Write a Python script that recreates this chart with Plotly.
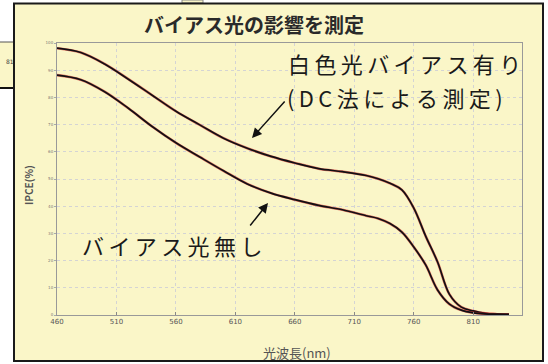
import plotly.graph_objects as go

# Wavelength grid (nm) and IPCE (%) for the two measurement conditions
wavelength = [460, 480, 500, 520, 540, 560, 580, 600, 620, 640, 660, 680, 700,
              720, 730, 740, 750, 760, 770, 780, 790, 800, 810, 820, 830, 840]
ipce_with_bias = [98.1, 96.5, 92.3, 86.7, 80.8, 74.9, 69.9, 65.0, 61.3, 58.3, 55.9,
                  53.8, 52.7, 51.3, 50.1, 48.4, 46.0, 39.3, 29.0, 19.5, 7.6, 2.9,
                  1.5, 0.6, 0.3, 0.2]
ipce_no_bias = [88.2, 86.5, 82.1, 76.0, 69.3, 63.3, 58.1, 53.0, 48.2, 44.8, 42.4,
                40.3, 38.7, 36.5, 35.5, 33.6, 30.5, 25.0, 18.4, 9.2, 4.0, 1.8,
                0.8, 0.4, 0.3, 0.2]

x_ticks = [460, 510, 560, 610, 660, 710, 760, 810]
y_ticks = [0, 10, 20, 30, 40, 50, 60, 70, 80, 90, 100]

title_text = "バイアス光の影響を測定"
x_title = "光波長(nm)"
y_title = "IPCE(%)"
label_bias = "白色光バイアス有り"
label_bias_sub = "(DC法による測定)"
label_nobias = "バイアス光無し"

W, H = 548, 364
L, R, T, B = 57, 522, 43, 315
JP = "Noto Sans CJK JP, Noto Sans, sans-serif"


def px(xp):
    return (xp - L) / (R - L)


def py(yp):
    return (B - yp) / (B - T)


def spaced(s):
    # loose letter spacing for the large callout labels
    return "\u2009".join(s)


fig = go.Figure()

# each series: a faint red underlay with a near-black line on top
for ys in (ipce_with_bias, ipce_no_bias):
    fig.add_trace(go.Scatter(x=wavelength, y=ys, mode="lines",
                             line=dict(color="rgba(210,30,30,0.6)", width=2.6, shape="spline"),
                             hoverinfo="skip", showlegend=False))
    fig.add_trace(go.Scatter(x=wavelength, y=ys, mode="lines",
                             line=dict(color="#121014", width=1.7, shape="spline"),
                             showlegend=False))

shapes = [
    # window behind the panel (top-left strip)
    dict(type="rect", xref="paper", yref="paper", x0=px(0), x1=px(14), y0=py(88), y1=py(42),
         fillcolor="#faf6c8", line=dict(width=0), layer="below"),
    dict(type="line", xref="paper", yref="paper", x0=px(0), x1=px(14), y0=py(42), y1=py(42),
         line=dict(color="#555", width=1), layer="below"),
    dict(type="line", xref="paper", yref="paper", x0=px(0), x1=px(14), y0=py(88), y1=py(88),
         line=dict(color="#111", width=2), layer="below"),
    dict(type="rect", xref="paper", yref="paper", x0=px(182), x1=px(203), y0=py(3), y1=py(0),
         fillcolor="#faf6c8", line=dict(color="#888", width=1), layer="below"),
    # main cream panel
    dict(type="rect", xref="paper", yref="paper", x0=px(14), x1=px(543), y0=py(361), y1=py(3.5),
         fillcolor="#faf6c8", line=dict(color="#1a1a1a", width=2), layer="below"),
]

annotations = [
    dict(text=title_text, x=px(254), y=py(24), xref="paper", yref="paper", showarrow=False,
         font=dict(family=JP, size=20, color="#2a2a2a", weight="bold"),
         xanchor="center", yanchor="middle"),
    dict(text=x_title, x=px(297), y=py(352), xref="paper", yref="paper", showarrow=False,
         font=dict(family=JP, size=13, color="#555"), xanchor="center", yanchor="middle"),
    dict(text=y_title, x=px(29), y=py(185), xref="paper", yref="paper", showarrow=False,
         textangle=-90, font=dict(family=JP, size=10, color="#555", weight="bold"),
         xanchor="center", yanchor="middle"),
    dict(text="81", x=px(4), y=py(62), xref="paper", yref="paper", showarrow=False,
         font=dict(family="DejaVu Sans", size=6, color="#444"), xanchor="left", yanchor="middle"),
    dict(text=spaced(label_bias), x=px(404), y=py(63), xref="paper", yref="paper", showarrow=False,
         font=dict(family=JP, size=22, color="#1a1a1a"), xanchor="center", yanchor="middle"),
    dict(text=spaced(label_bias_sub), x=px(395), y=py(97), xref="paper", yref="paper",
         showarrow=False, font=dict(family=JP, size=22, color="#1a1a1a"),
         xanchor="center", yanchor="middle"),
    dict(text=spaced(label_nobias), x=px(172), y=py(245), xref="paper", yref="paper",
         showarrow=False, font=dict(family=JP, size=22, color="#1a1a1a"),
         xanchor="center", yanchor="middle"),
    # arrows pointing to the curves (tail offsets in pixels)
    dict(x=px(252), y=py(138), ax=34, ay=-38, xref="paper", yref="paper",
         axref="pixel", ayref="pixel", text="", showarrow=True, arrowhead=2,
         arrowsize=1.3, arrowwidth=1.5, arrowcolor="#111"),
    dict(x=px(268), y=py(203), ax=-19, ay=24, xref="paper", yref="paper",
         axref="pixel", ayref="pixel", text="", showarrow=True, arrowhead=2,
         arrowsize=1.3, arrowwidth=1.5, arrowcolor="#111"),
]

fig.update_layout(
    width=W, height=H,
    margin=dict(l=L, r=W - R, t=T, b=H - B),
    paper_bgcolor="white",
    plot_bgcolor="white",
    shapes=shapes,
    annotations=annotations,
    xaxis=dict(range=[460, 851], tickvals=x_ticks, ticktext=[str(v) for v in x_ticks],
               showgrid=True, gridcolor="#d4d4d4", griddash="dot", gridwidth=1,
               showline=True, linecolor="#999", linewidth=1, mirror=True,
               ticks="inside", ticklen=3, tickcolor="#888",
               tickfont=dict(family="DejaVu Sans", size=7, color="#555"), zeroline=False),
    yaxis=dict(range=[0, 100], tickvals=y_ticks, ticktext=[str(v) for v in y_ticks],
               showgrid=True, gridcolor="#d4d4d4", griddash="dot", gridwidth=1,
               showline=True, linecolor="#999", linewidth=1, mirror=True,
               ticks="outside", ticklen=2, tickcolor="#aaa",
               tickfont=dict(family="DejaVu Sans", size=4, color="#777"), zeroline=False),
)

fig.write_html("out.html")
